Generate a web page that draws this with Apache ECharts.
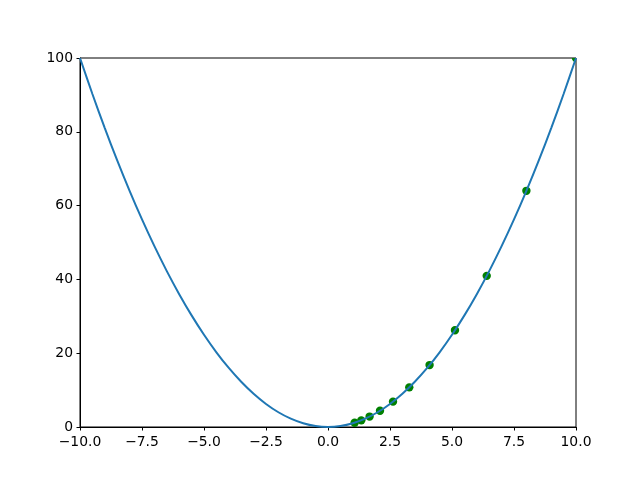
<!DOCTYPE html>
<html>
<head>
<meta charset="utf-8">
<script src="https://cdn.jsdelivr.net/npm/echarts@6/dist/echarts.min.js"></script>
<style>html,body{margin:0;padding:0;background:#fff}#c{width:640px;height:480px}</style>
</head>
<body>
<div id="c"></div>
<script>
const curveX = [-10,-9.5,-9,-8.5,-8,-7.5,-7,-6.5,-6,-5.5,-5,-4.5,-4,-3.5,-3,-2.5,-2,-1.5,-1,-0.5,0,0.5,1,1.5,2,2.5,3,3.5,4,4.5,5,5.5,6,6.5,7,7.5,8,8.5,9,9.5,10];
const curveY = [100,90.25,81,72.25,64,56.25,49,42.25,36,30.25,25,20.25,16,12.25,9,6.25,4,2.25,1,0.25,0,0.25,1,2.25,4,6.25,9,12.25,16,20.25,25,30.25,36,42.25,49,56.25,64,72.25,81,90.25,100];
const pointX = [1.074,1.342,1.678,2.097,2.621,3.277,4.096,5.12,6.4,8.0,10.0];
const pointY = [1.15,1.80,2.82,4.40,6.87,10.74,16.78,26.21,40.96,64.0,100.0];
const xTicks = [-10,-7.5,-5,-2.5,0,2.5,5,7.5,10];
const yTicks = [0,20,40,60,80,100];

const font = 'DejaVu Sans';
const fs = 13.9;
const chart = echarts.init(document.getElementById('c'), null, {renderer:'canvas'});
const minus = s => s.replace('-', '\u2212');
chart.setOption({
  animation:false,
  grid:{left:80,right:64,top:58,bottom:53,show:true,borderColor:'#000',borderWidth:1,backgroundColor:'transparent'},
  xAxis:{type:'value',min:xTicks[0],max:xTicks[xTicks.length-1],interval:2.5,
    axisLine:{show:true,onZero:false,lineStyle:{color:'#000',width:1}},
    axisTick:{show:true,length:3.5,lineStyle:{color:'#000'}},
    splitLine:{show:false},
    axisLabel:{color:'#000',fontFamily:font,fontSize:fs,margin:8,formatter:v=>minus(v.toFixed(1))}},
  yAxis:{type:'value',min:yTicks[0],max:yTicks[yTicks.length-1],interval:20,
    axisLine:{show:true,onZero:false,lineStyle:{color:'#000',width:1}},
    axisTick:{show:true,length:3.5,lineStyle:{color:'#000'}},
    splitLine:{show:false},
    axisLabel:{color:'#000',fontFamily:font,fontSize:fs,margin:7,formatter:v=>String(v)}},
  series:[
    {type:'custom',data:pointX.map((x,i)=>[x,pointY[i]]),clip:true,z:2,
     renderItem:function(params, api){
       const p = api.coord([api.value(0), api.value(1)]);
       return {type:'circle',shape:{cx:p[0],cy:p[1],r:4.2},style:{fill:'#008000'}};
     }},
    {type:'line',data:curveX.map((x,i)=>[x,curveY[i]]),showSymbol:false,smooth:0.3,
     lineStyle:{color:'#1f77b4',width:2},itemStyle:{color:'#1f77b4'},clip:true,z:3}
  ]
});
</script>
</body>
</html>
